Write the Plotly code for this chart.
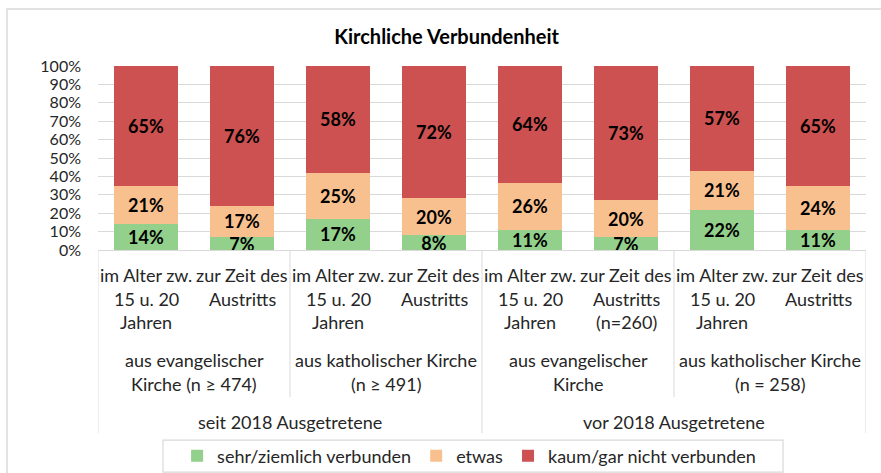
import plotly.graph_objects as go

# data
title = "Kirchliche Verbundenheit"
series_names = ["sehr/ziemlich verbunden", "etwas", "kaum/gar nicht verbunden"]
colors = ["#92D08C", "#F9C08F", "#CD5151"]

sehr = [14, 7, 17, 8, 11, 7, 22, 11]
etwas = [21, 17, 25, 20, 26, 20, 21, 24]
kaum = [65, 76, 58, 72, 64, 73, 57, 65]

zeitpunkt = [
    ["im Alter zw.", "15 u. 20", "Jahren"], ["zur Zeit des", "Austritts"],
    ["im Alter zw.", "15 u. 20", "Jahren"], ["zur Zeit des", "Austritts"],
    ["im Alter zw.", "15 u. 20", "Jahren"], ["zur Zeit des", "Austritts", "(n=260)"],
    ["im Alter zw.", "15 u. 20", "Jahren"], ["zur Zeit des", "Austritts"],
]
kirche = [
    ["aus evangelischer", "Kirche (n \u2265 474)"],
    ["aus katholischer Kirche", "(n \u2265 491)"],
    ["aus evangelischer", "Kirche"],
    ["aus katholischer Kirche", "(n = 258)"],
]
gruppe = ["seit 2018 Ausgetretene", "vor 2018 Ausgetretene"]

FONT = "Lato, 'Open Sans', sans-serif"
TXT = "#262626"
GRID = "#d9d9d9"

xs = list(range(len(sehr)))

fig = go.Figure()
for name, vals, col in zip(series_names, [sehr, etwas, kaum], colors):
    fig.add_trace(go.Bar(
        x=xs, y=vals, name=name, marker_color=col, marker_line_width=0,
        text=[f"{v}%" for v in vals], textposition="inside",
        insidetextanchor="middle", constraintext="none",
        textfont=dict(family=FONT, size=18, color="black", weight="bold"),
        hoverinfo="skip",
    ))

# category labels (3 levels)
ann = []
lab_font = dict(family=FONT, size=18, color=TXT)
line_y1 = [25, 49, 72]
for i, lines in enumerate(zeitpunkt):
    for j, t in enumerate(lines):
        ann.append(dict(x=i, y=0, xref="x", yref="paper", text=t, showarrow=False,
                        yanchor="middle", yshift=-line_y1[j], font=lab_font))
line_y2 = [110, 134]
for k, lines in enumerate(kirche):
    for j, t in enumerate(lines):
        ann.append(dict(x=2 * k + 0.5, y=0, xref="x", yref="paper", text=t, showarrow=False,
                        yanchor="middle", yshift=-line_y2[j], font=lab_font))
for k, t in enumerate(gruppe):
    ann.append(dict(x=4 * k + 1.5, y=0, xref="x", yref="paper", text=t, showarrow=False,
                    yanchor="middle", yshift=-172, font=lab_font))

# separator lines under the axis
shapes = []
for b in range(len(sehr) // 2 + 1):
    xpos = 2 * b - 0.5
    y_end = -0.995 if b % 2 == 0 else -0.80
    shapes.append(dict(type="line", xref="x", yref="paper", x0=xpos, x1=xpos,
                       y0=0, y1=y_end, line=dict(color=GRID, width=1)))
# outer frame
shapes.append(dict(type="rect", xref="paper", yref="paper", x0=-0.1185, x1=1.03,
                   y0=-1.3, y1=1.31, line=dict(color=GRID, width=1.5), layer="below"))
# legend box
shapes.append(dict(type="rect", xref="paper", yref="paper", x0=0.0846, x1=0.892,
                   y0=-1.207, y1=-1.033, line=dict(color=GRID, width=1.2), layer="below"))

fig.update_layout(
    width=881, height=473,
    margin=dict(l=98, r=15, t=66, b=223, autoexpand=False),
    paper_bgcolor="white", plot_bgcolor="white",
    barmode="stack", barnorm="percent", bargap=0.333,
    title=dict(text=f"<b>{title}</b>", x=0.507, xref="container", xanchor="center",
               y=0.922, yref="container", yanchor="middle",
               font=dict(family=FONT, size=20, color="black")),
    font=dict(family=FONT, size=16, color=TXT),
    xaxis=dict(range=[-0.5, len(sehr) - 0.5], showticklabels=False, showgrid=False,
               zeroline=False, showline=True, linecolor=GRID, ticks=""),
    yaxis=dict(range=[0, 100], dtick=10, ticksuffix="%", showgrid=True, gridcolor=GRID,
               zeroline=False, showline=False, ticklabelstandoff=16,
               tickfont=dict(family=FONT, size=16, color=TXT)),
    legend=dict(orientation="h", x=0.103, xanchor="left", y=-1.12, yanchor="middle",
                borderwidth=0, itemwidth=30, bgcolor="rgba(0,0,0,0)",
                font=dict(family=FONT, size=18, color=TXT), traceorder="normal"),
    annotations=ann, shapes=shapes,
)

# page margin of the browser would push the chart 8px down/right
fig.write_html("out.html", config={"displayModeBar": False},
               post_script="document.body.style.margin='0';")
